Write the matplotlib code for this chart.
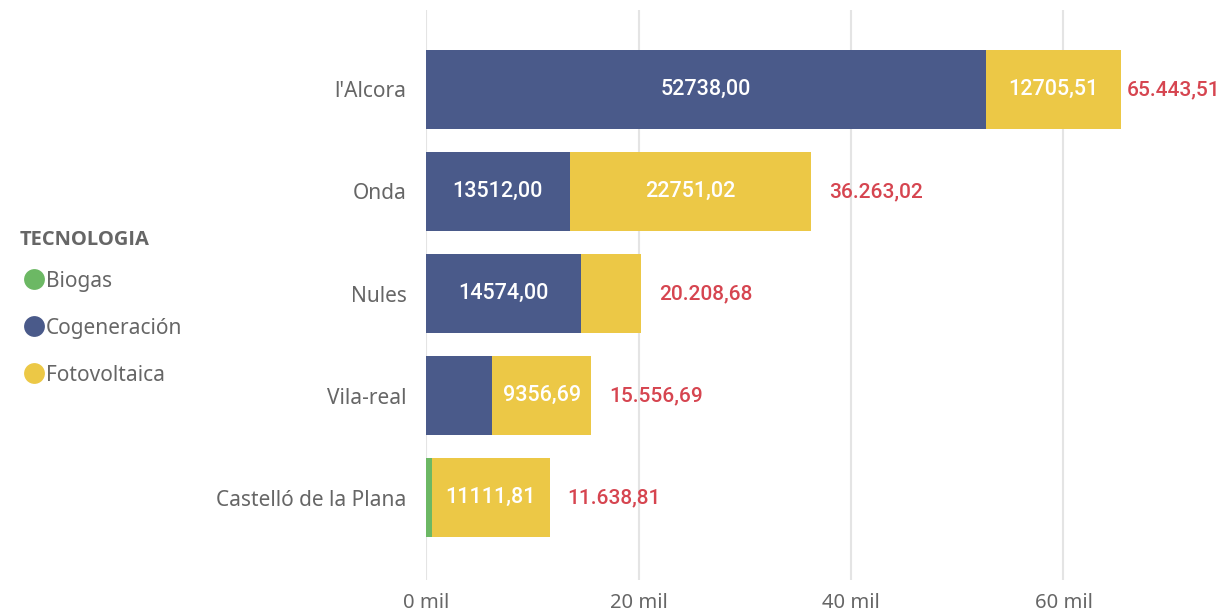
import matplotlib.pyplot as plt
from matplotlib.lines import Line2D
import numpy as np

cities = ["l'Alcora", "Onda", "Nules", "Vila-real", "Castelló de la Plana"]
biogas = [0, 0, 0, 0, 527.00]
cogen = [52738.00, 13512.00, 14574.00, 6200.00, 0]
foto = [12705.51, 22751.02, 5634.68, 9356.69, 11111.81]
xticks = [0, 20000, 40000, 60000]
xtick_labels = ["0 mil", "20 mil", "40 mil", "60 mil"]

COLORS = {"Biogas": "#6CB864", "Cogeneración": "#4A5A8A", "Fotovoltaica": "#ECC846"}
GREY = "#666666"
RED = "#D64550"


def fmt_in(v):
    return f"{v:.2f}".replace(".", ",")


def fmt_total(v):
    s = f"{v:,.2f}"
    return s.replace(",", "X").replace(".", ",").replace("X", ".")


fig = plt.figure(figsize=(12.26, 6.16), dpi=100)
ax = fig.add_axes([0.3475, 0.058, 0.6525, 0.926])

y = np.arange(len(cities))
series = [("Biogas", biogas), ("Cogeneración", cogen), ("Fotovoltaica", foto)]
left = np.zeros(len(cities))
for name, vals in series:
    vals = np.array(vals)
    ax.barh(y, vals, left=left, height=0.77, color=COLORS[name], zorder=2)
    for i, v in enumerate(vals):
        # only label segments wide enough for the text
        if v >= 9000:
            ax.text(left[i] + v / 2, y[i], fmt_in(v), ha="center", va="center",
                    color="white", fontsize=15.5, fontfamily="Roboto",
                    fontweight="medium", zorder=3)
    left += vals

xmax = 75300
for i, tot in enumerate(left):
    pad = 4 if tot > 0.85 * xmax else 13
    ax.annotate(fmt_total(tot), (tot, y[i]), xytext=(pad, 0),
                textcoords="offset points", ha="left", va="center",
                color=RED, fontsize=15, fontfamily="Roboto", fontweight="medium")

ax.set_xlim(0, xmax)
ax.set_ylim(len(cities) - 1 + 0.81, -0.78)
ax.set_yticks(y)
ax.set_yticklabels(cities, fontsize=15, color=GREY, fontfamily="Noto Sans")
ax.set_xticks(xticks)
ax.set_xticklabels(xtick_labels, fontsize=14.5, color=GREY, fontfamily="Noto Sans")
ax.tick_params(length=0)
ax.tick_params(axis="y", pad=14)
ax.tick_params(axis="x", pad=9)
ax.xaxis.grid(True, color="#E4E4E4", linewidth=1.5, zorder=0)
ax.set_axisbelow(True)
for s in ax.spines.values():
    s.set_visible(False)

# legend title drawn separately so its gap to the entries can be set freely
fig.text(0.016, 1 - 240 / 616, "TECNOLOGIA", ha="left", va="center",
         color=GREY, fontsize=14.5, fontweight="bold", fontfamily="Open Sans")
handles = [Line2D([], [], marker="o", linestyle="", markersize=15,
                  markerfacecolor=COLORS[n], markeredgewidth=0) for n, _ in series]
leg = fig.legend(handles, [n for n, _ in series], loc="upper left",
                 bbox_to_anchor=(0.002, 0.591), frameon=False,
                 prop={"family": "Noto Sans", "size": 15}, labelcolor=GREY,
                 handletextpad=0.0, handlelength=1.2, labelspacing=1.25)

fig.savefig("out.png", dpi=100)
